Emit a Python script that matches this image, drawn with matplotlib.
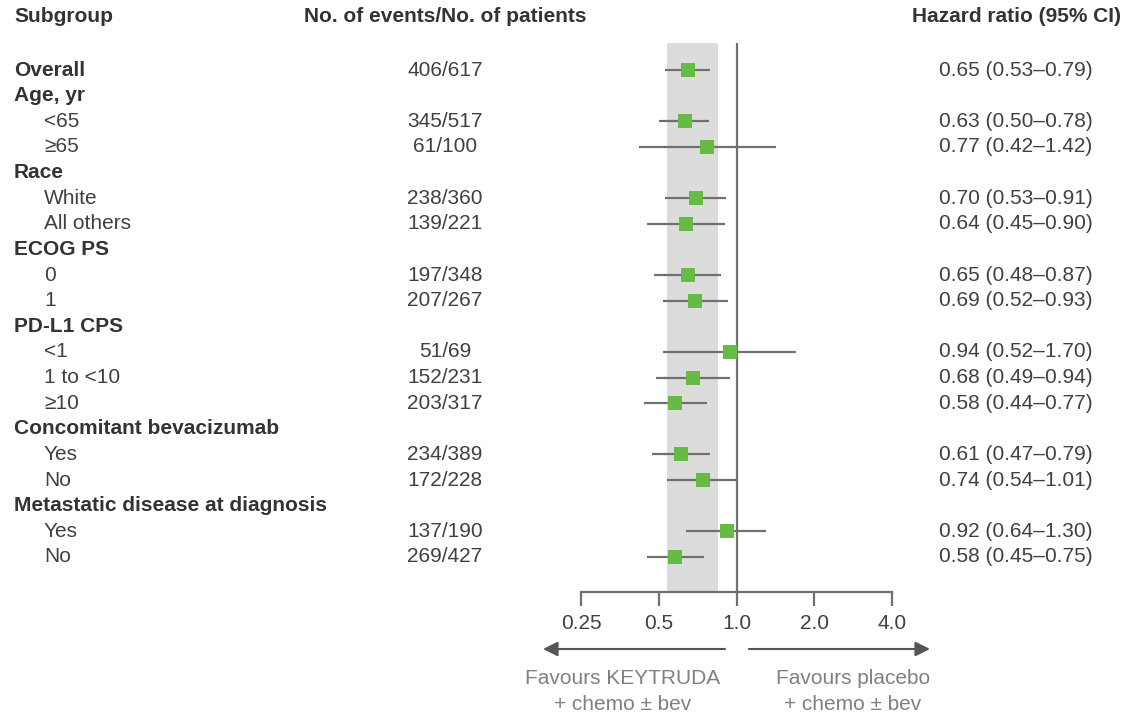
import numpy as np
import matplotlib.pyplot as plt
from matplotlib.transforms import blended_transform_factory

plt.rcParams['font.family'] = ['Liberation Sans', 'DejaVu Sans']

# forest plot data
labels = ["Overall", "Age, yr", "<65", "\u226565", "Race", "White", "All others",
          "ECOG PS", "0", "1", "PD-L1 CPS", "<1", "1 to <10", "\u226510",
          "Concomitant bevacizumab", "Yes", "No",
          "Metastatic disease at diagnosis", "Yes", "No"]
bold = [1, 1, 0, 0, 1, 0, 0, 1, 0, 0, 1, 0, 0, 0, 1, 0, 0, 1, 0, 0]
events = ["406/617", "", "345/517", "61/100", "", "238/360", "139/221", "",
          "197/348", "207/267", "", "51/69", "152/231", "203/317", "",
          "234/389", "172/228", "", "137/190", "269/427"]
nan = np.nan
hr = [0.65, nan, 0.63, 0.77, nan, 0.70, 0.64, nan, 0.65, 0.69, nan, 0.94, 0.68, 0.58,
      nan, 0.61, 0.74, nan, 0.92, 0.58]
lo = [0.53, nan, 0.50, 0.42, nan, 0.53, 0.45, nan, 0.48, 0.52, nan, 0.52, 0.49, 0.44,
      nan, 0.47, 0.54, nan, 0.64, 0.45]
hi = [0.79, nan, 0.78, 1.42, nan, 0.91, 0.90, nan, 0.87, 0.93, nan, 1.70, 0.94, 0.77,
      nan, 0.79, 1.01, nan, 1.30, 0.75]
ticks = [0.25, 0.5, 1.0, 2.0, 4.0]
band = (0.54, 0.845)

W, H = 1126, 714
fig = plt.figure(figsize=(W / 100, H / 100), dpi=100)

# axes placed in pixel coords
x0, x1 = 581, 892
y_top, y_bot = 43, 592
ax = fig.add_axes([x0 / W, 1 - y_bot / H, (x1 - x0) / W, (y_bot - y_top) / H])
row0, step = 70, 25.63
ax.set_xscale('log', base=2)
ax.set_xlim(ticks[0], ticks[-1])
ax.set_ylim((y_bot - row0) / step, (y_top - row0) / step)

grey = '#707070'
txt = '#404040'
ax.axvspan(band[0], band[1], color='#dcdcdc', zorder=0, lw=0)
ax.axvline(1.0, color=grey, lw=1.6, zorder=1)

y = np.arange(len(labels))
ax.hlines(y, lo, hi, color=grey, lw=1.6, zorder=2)
ax.plot(hr, y, 's', color='#66bb44', markersize=10, markeredgewidth=0, zorder=3)

for s in ['top', 'right', 'left']:
    ax.spines[s].set_visible(False)
ax.spines['bottom'].set_color(grey)
ax.spines['bottom'].set_linewidth(1.6)
ax.set_yticks([])
ax.set_xticks(ticks)
ax.set_xticklabels(["0.25", "0.5", "1.0", "2.0", "4.0"])
ax.xaxis.set_minor_locator(plt.NullLocator())
ax.tick_params(axis='x', length=10, width=1.6, color=grey, labelsize=15,
               labelcolor=txt, pad=6)

# text columns
tr = blended_transform_factory(fig.transFigure, ax.transData)
fs = 15
for i, lab in enumerate(labels):
    if bold[i]:
        ax.text(14 / W, i, lab, transform=tr, fontsize=fs, fontweight='bold',
                color='#333333', va='center', ha='left')
    else:
        ax.text(44 / W, i, lab, transform=tr, fontsize=fs, color=txt,
                va='center', ha='left')
    if events[i]:
        ax.text(445 / W, i, events[i], transform=tr, fontsize=fs, color=txt,
                va='center', ha='center')
    if not np.isnan(hr[i]):
        s = f"{hr[i]:.2f} ({lo[i]:.2f}\u2013{hi[i]:.2f})"
        ax.text(1016 / W, i, s, transform=tr, fontsize=fs, color=txt,
                va='center', ha='center')

hy = (17 - row0) / step
ax.text(14 / W, hy, "Subgroup", transform=tr, fontsize=fs, fontweight='bold',
        color='#333333', va='center', ha='left')
ax.text(445 / W, hy, "No. of events/No. of patients", transform=tr, fontsize=fs,
        fontweight='bold', color='#333333', va='center', ha='center')
ax.text(1016 / W, hy, "Hazard ratio (95% CI)", transform=tr, fontsize=fs,
        fontweight='bold', color='#333333', va='center', ha='center')

# arrows and favour labels
ay = 1 - 649 / H
fig.add_artist(plt.Annotation("", xy=(543 / W, ay), xytext=(725 / W, ay),
               xycoords='figure fraction', textcoords='figure fraction',
               arrowprops=dict(arrowstyle='-|>', color='#555555', lw=1.5,
                               mutation_scale=22, shrinkA=0, shrinkB=0)))
fig.add_artist(plt.Annotation("", xy=(930 / W, ay), xytext=(749 / W, ay),
               xycoords='figure fraction', textcoords='figure fraction',
               arrowprops=dict(arrowstyle='-|>', color='#555555', lw=1.5,
                               mutation_scale=22, shrinkA=0, shrinkB=0)))
fig.text(623 / W, 1 - 678 / H, "Favours KEYTRUDA", fontsize=fs, color='#808080',
         ha='center', va='center')
fig.text(623 / W, 1 - 704 / H, "+ chemo \u00b1 bev", fontsize=fs, color='#808080',
         ha='center', va='center')
fig.text(853 / W, 1 - 678 / H, "Favours placebo", fontsize=fs, color='#808080',
         ha='center', va='center')
fig.text(853 / W, 1 - 704 / H, "+ chemo \u00b1 bev", fontsize=fs, color='#808080',
         ha='center', va='center')

fig.savefig("out.png", dpi=100)
